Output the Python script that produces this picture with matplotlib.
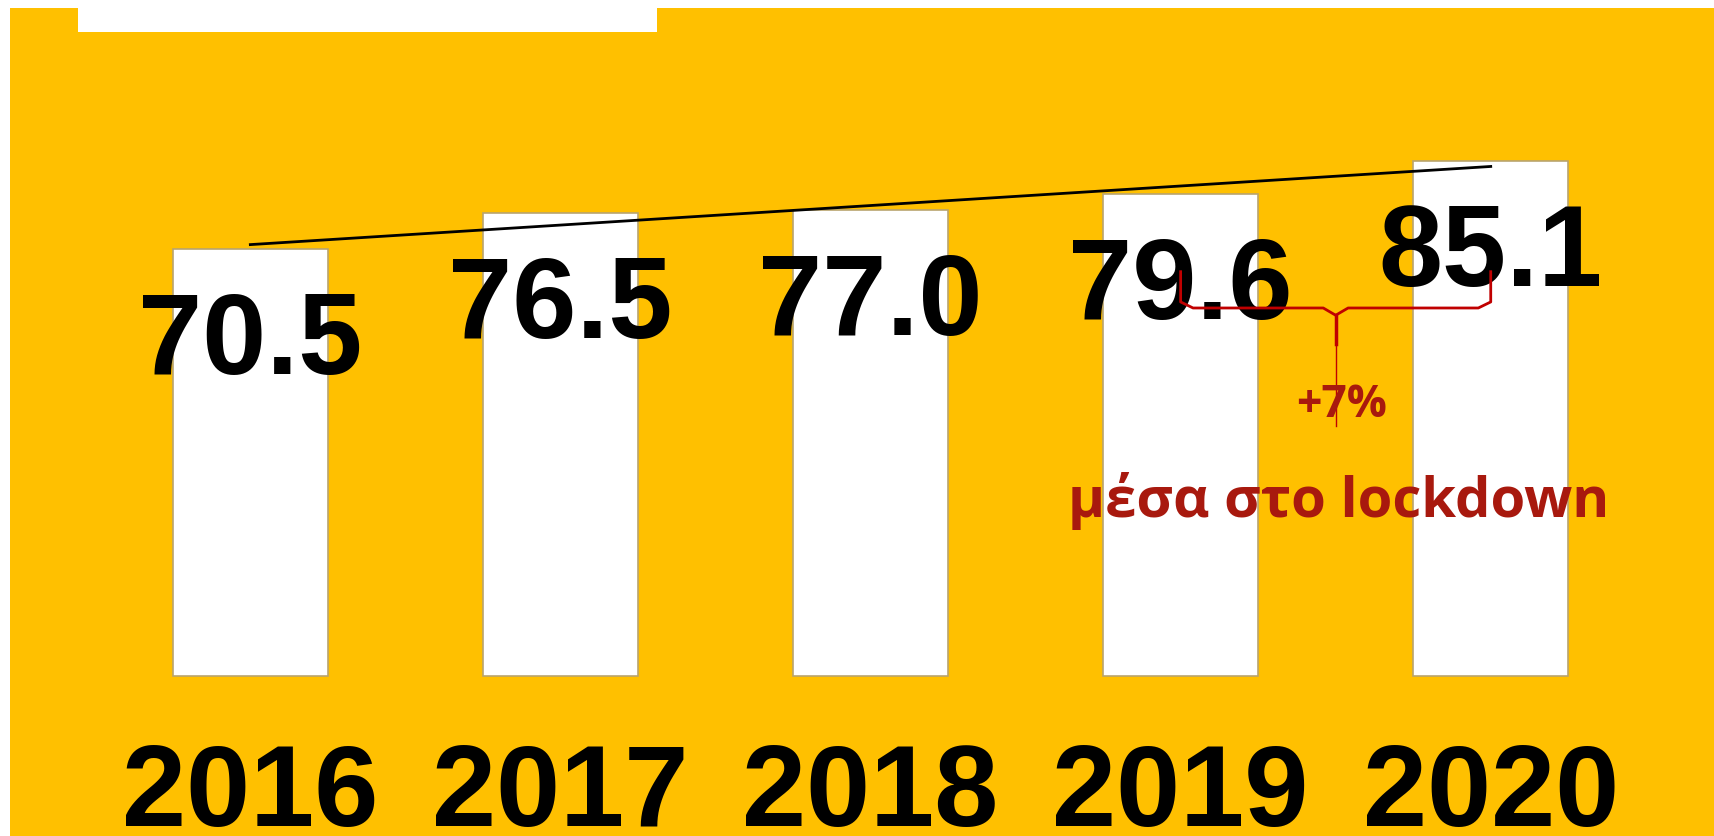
import numpy as np
import matplotlib
matplotlib.use("Agg")
import matplotlib.pyplot as plt
from matplotlib.patches import Rectangle

years = ["2016", "2017", "2018", "2019", "2020"]
values = [70.5, 76.5, 77.0, 79.6, 85.1]
change_label = "+7%"
change_note = "μέσα στο lockdown"

YELLOW = "#FFC000"
RED_LINE = "#C00000"
RED_TEXT = "#A8190E"

fig = plt.figure(figsize=(17.14, 8.37), dpi=100, facecolor="white")
ax = fig.add_axes([10 / 1714, 0, 1704 / 1714, 828 / 837])
ax.set_facecolor(YELLOW)

x = np.arange(len(years))
ax.bar(x, values, width=0.5, color="white", edgecolor="#B9A46E", linewidth=1.2, zorder=2)

# linear trend line over the bars
slope, intercept = np.polyfit(x, values, 1)
ax.plot([x[0], x[-1]], [intercept, intercept + slope * x[-1]], color="black", linewidth=2, zorder=3)

# value labels, inside the top of each bar
for xi, v in zip(x, values):
    ax.annotate(f"{v:.1f}", (xi, v), xytext=(0, -89), textcoords="offset points",
                ha="center", va="baseline", fontsize=83, fontweight="bold",
                family="Liberation Sans", color="black", zorder=4)

# year labels under the bars
for xi, y in zip(x, years):
    ax.text(xi, -24.6, y, ha="center", va="baseline", fontsize=83,
            fontweight="bold", family="Liberation Sans", color="black")

# curly bracket between 2019 and 2020
a, b = x[3], x[4]
mid = (a + b) / 2
top, level, stem = 66.8, 60.8, 54.8
r = 0.04
ax.plot([a, a, a + r, mid - r, mid, mid + r, b - r, b, b],
        [top, level + 1.0, level, level, level - 1.2, level, level, level + 1.0, top],
        color=RED_LINE, linewidth=2, zorder=5, solid_joinstyle="round")
ax.plot([mid, mid], [level - 1.2, stem], color=RED_LINE, linewidth=2.5, zorder=5)
ax.plot([mid, mid], [stem, 41.3], color=RED_LINE, linewidth=1, zorder=5)

ax.text(mid + 0.02, 42.9, change_label, ha="center", va="baseline", fontsize=32,
        fontweight="bold", family="Open Sans", color=RED_TEXT, zorder=6)
ax.text(mid + 0.01, 26.4, change_note, ha="center", va="baseline", fontsize=40.5,
        fontweight="bold", family="Open Sans", color=RED_TEXT, zorder=6)

ax.set_xlim(-0.775, 4.72)
ax.set_ylim(-26.5, 110.4)
ax.set_xticks([])
ax.set_yticks([])
for s in ax.spines.values():
    s.set_visible(False)

# white block covering the top-left title area
fig.patches.append(Rectangle((78 / 1714, 1 - 33 / 837), 579 / 1714, 33 / 837,
                             transform=fig.transFigure, facecolor="white",
                             edgecolor="none", zorder=10))

fig.savefig("out.png", dpi=100, facecolor="white")
